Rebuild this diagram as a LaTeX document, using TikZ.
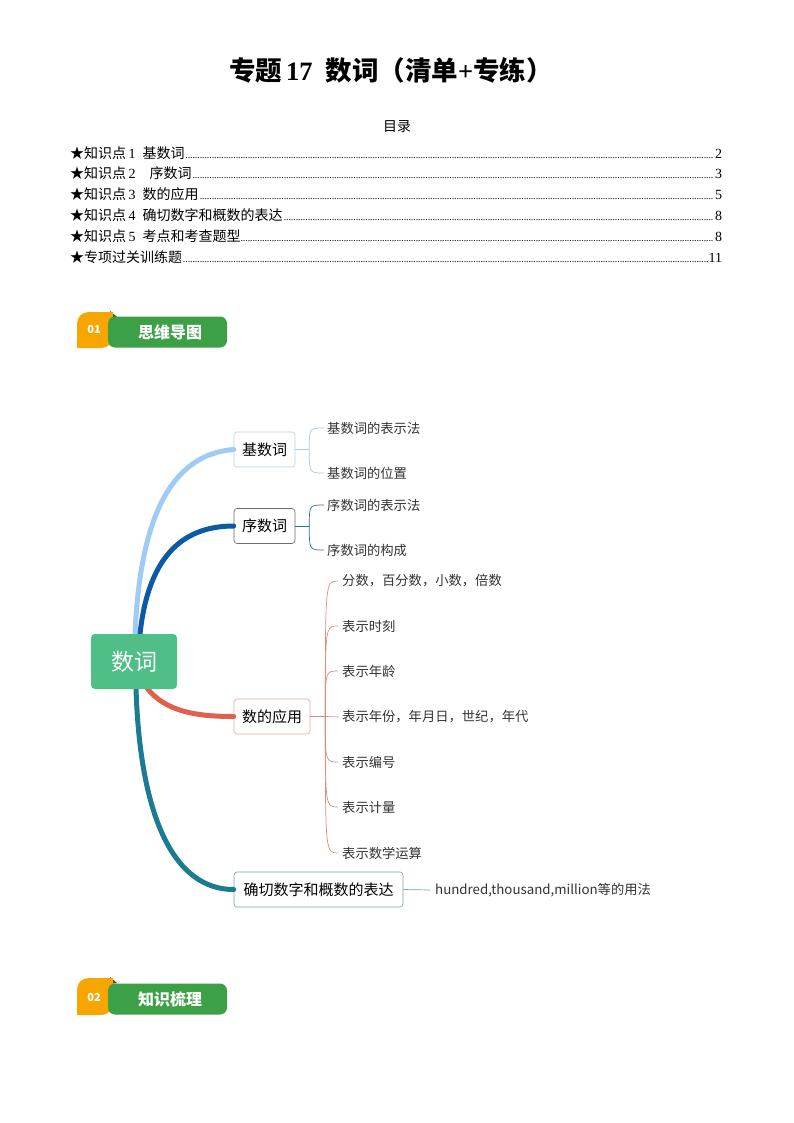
\documentclass[tikz,border=0pt]{standalone}
\usepackage{fontspec}
\setmainfont{Liberation Serif}
\newfontfamily\cjk{Noto Sans CJK SC}
\usetikzlibrary{calc}
\definecolor{badgeorange}{RGB}{247,165,0}
\definecolor{badgegreen}{RGB}{60,160,70}
\definecolor{shadowdark}{RGB}{70,70,60}
\definecolor{centergreen}{RGB}{79,191,135}
\definecolor{lblue}{RGB}{160,204,243}
\definecolor{dblue}{RGB}{11,91,164}
\definecolor{mred}{RGB}{224,96,78}
\definecolor{mteal}{RGB}{27,123,144}
\definecolor{bdA}{RGB}{184,208,229}
\definecolor{bdB}{RGB}{107,107,107}
\definecolor{bdC}{RGB}{227,165,155}
\definecolor{bdD}{RGB}{126,159,170}
\definecolor{lnA}{RGB}{168,200,224}
\definecolor{lnB}{RGB}{47,109,168}
\definecolor{lnC}{RGB}{217,140,128}
\definecolor{lnD}{RGB}{111,163,179}
\definecolor{leafgray}{RGB}{51,51,51}
\newcommand\tocdots{\leaders\hbox to 2.4pt{\hss\fontsize{10}{10}\selectfont.\hss}\hfill}
\begin{document}
\begin{tikzpicture}[x=1pt,y=-1pt,
  tocline/.style={anchor=west,inner sep=0pt,font=\fontsize{14}{14}\selectfont},
  topic/.style={draw,rounded corners=3pt,inner sep=0pt,minimum height=35pt,text=black,font=\cjk\fontsize{15}{15}\selectfont,line width=0.6pt},
  leaf/.style={anchor=west,inner sep=0pt,text=leafgray,font=\cjk\fontsize{13.3}{13.3}\selectfont},
  mainline/.style={line width=5pt,line cap=round},
  thin/.style={line width=0.7pt}]
\useasboundingbox (0,0) rectangle (794,1123);
\fill[white] (0,0) rectangle (794,1123);
% title
\node[inner sep=0pt,font=\fontsize{26.5}{26.5}\selectfont] (title) at (391,70)
  {{\cjk\bfseries 专题}\kern4pt\textbf{17}\kern13pt{\cjk\bfseries 数词（清单}\textbf{+}{\cjk\bfseries 专练）}};
\node[inner sep=0pt,font=\cjk\fontsize{14}{14}\selectfont] (mulu) at (397,127) {目录};
% toc
\node[tocline] (toc1) at (70,153) {\makebox[652pt][l]{{\cjk ★知识点}\,1\ \ {\cjk 基数词}\tocdots 2}};
\node[tocline] (toc2) at (70,173) {\makebox[652pt][l]{{\cjk ★知识点}\,2\ \ \ \ {\cjk 序数词}\tocdots 3}};
\node[tocline] (toc3) at (70,194) {\makebox[652pt][l]{{\cjk ★知识点}\,3\ \ {\cjk 数的应用}\tocdots 5}};
\node[tocline] (toc4) at (70,215) {\makebox[652pt][l]{{\cjk ★知识点}\,4\ \ {\cjk 确切数字和概数的表达}\tocdots 8}};
\node[tocline] (toc5) at (70,236) {\makebox[652pt][l]{{\cjk ★知识点}\,5\ \ {\cjk 考点和考查题型}\tocdots 8}};
\node[tocline] (toc6) at (70,257) {\makebox[652pt][l]{{\cjk ★专项过关训练题}\tocdots 11}};
% badge 1
\fill[shadowdark] (110,311) -- (117,317) -- (110,318) -- cycle;
\fill[badgeorange] (77,348) -- (77,324) .. controls (77,317) and (82,312) .. (89,312) -- (113,312) -- (113,336) .. controls (113,343) and (108,348) .. (101,348) -- cycle;
\node[fill=badgegreen,rounded corners=7pt,minimum width=119pt,minimum height=31pt,inner sep=0pt] (g1) at (167.5,332) {};
\node[text=white,inner sep=0pt,font=\cjk\bfseries\fontsize{11}{11}\selectfont] (n1) at (94,330) {01};
\node[text=white,inner sep=0pt,font=\cjk\bfseries\fontsize{16}{16}\selectfont] (h1) at (170,332) {思维导图};
% badge 2
\fill[shadowdark] (110,977) -- (117,983) -- (110,984) -- cycle;
\fill[badgeorange] (77,1015) -- (77,990) .. controls (77,983) and (82,978) .. (89,978) -- (113,978) -- (113,1003) .. controls (113,1010) and (108,1015) .. (101,1015) -- cycle;
\node[fill=badgegreen,rounded corners=7pt,minimum width=119pt,minimum height=31pt,inner sep=0pt] (g2) at (167.5,999) {};
\node[text=white,inner sep=0pt,font=\cjk\bfseries\fontsize{11}{11}\selectfont] (n2) at (94,997) {02};
\node[text=white,inner sep=0pt,font=\cjk\bfseries\fontsize{16}{16}\selectfont] (h2) at (170,999) {知识梳理};
% topic nodes
\node[topic,draw=bdA,minimum width=61pt] (k1) at (264.5,449.5) {基数词};
\node[topic,draw=bdB,minimum width=61pt] (k2) at (264.5,526) {序数词};
\node[topic,draw=bdC,minimum width=76pt] (k3) at (272,716.5) {数的应用};
\node[topic,draw=bdD,minimum width=169pt] (k4) at (318.5,889.5) {确切数字和概数的表达};
% main curves
\draw[mainline,lblue] (135,634) .. controls +(5,-114) and +(-64,5) .. (k1.west);
\draw[mainline,dblue] (140,634) .. controls +(8,-74) and +(-54,0) .. (k2.west);
\draw[mainline,mred] (147,688) .. controls +(18,23) and +(-39,0) .. (k3.west);
\draw[mainline,mteal] (136,688) .. controls +(4,131) and +(-59,0) .. (k4.west);
% central
\node[fill=centergreen,rounded corners=4pt,minimum width=86pt,minimum height=55pt,inner sep=0pt,text=white,font=\cjk\fontsize{23}{23}\selectfont] (c) at (134,661.5) {数词};
% leaves branch 1
\node[leaf] (t11) at (327,428) {基数词的表示法};
\node[leaf] (t12) at (327,473) {基数词的位置};
\draw[thin,lnA] (k1.east) -- ++(14,0) coordinate (s1);
\foreach \t in {t11,t12} \draw[thin,lnA] (s1) .. controls (s1 |- \t.west) .. ([xshift=-3pt]\t.west);
% branch 2
\node[leaf] (t21) at (327,505) {序数词的表示法};
\node[leaf] (t22) at (327,550) {序数词的构成};
\draw[thin,lnB] (k2.east) -- ++(14,0) coordinate (s2);
\foreach \t in {t21,t22} \draw[thin,lnB] (s2) .. controls (s2 |- \t.west) .. ([xshift=-3pt]\t.west);
% branch 3
\node[leaf] (t31) at (342,581) {分数，百分数，小数，倍数};
\node[leaf] (t32) at (342,626) {表示时刻};
\node[leaf] (t33) at (342,671) {表示年龄};
\node[leaf] (t34) at (342,717) {表示年份，年月日，世纪，年代};
\node[leaf] (t35) at (342,762) {表示编号};
\node[leaf] (t36) at (342,807) {表示计量};
\node[leaf] (t37) at (342,853) {表示数学运算};
\draw[thin,lnC] (k3.east) -- ++(15,0) coordinate (s3);
\foreach \t in {t31,t32,t33,t35,t36,t37} \draw[thin,lnC] (s3) .. controls (s3 |- \t.west) .. ([xshift=-4pt]\t.west);
\draw[thin,lnC] (s3) -- ([xshift=-4pt]t34.west);
% branch 4
\node[leaf] (t41) at (435,890) {hundred,thousand,million等的用法};
\draw[thin,lnD] (k4.east) -- ([xshift=-5pt]t41.west);
\end{tikzpicture}
\end{document}
